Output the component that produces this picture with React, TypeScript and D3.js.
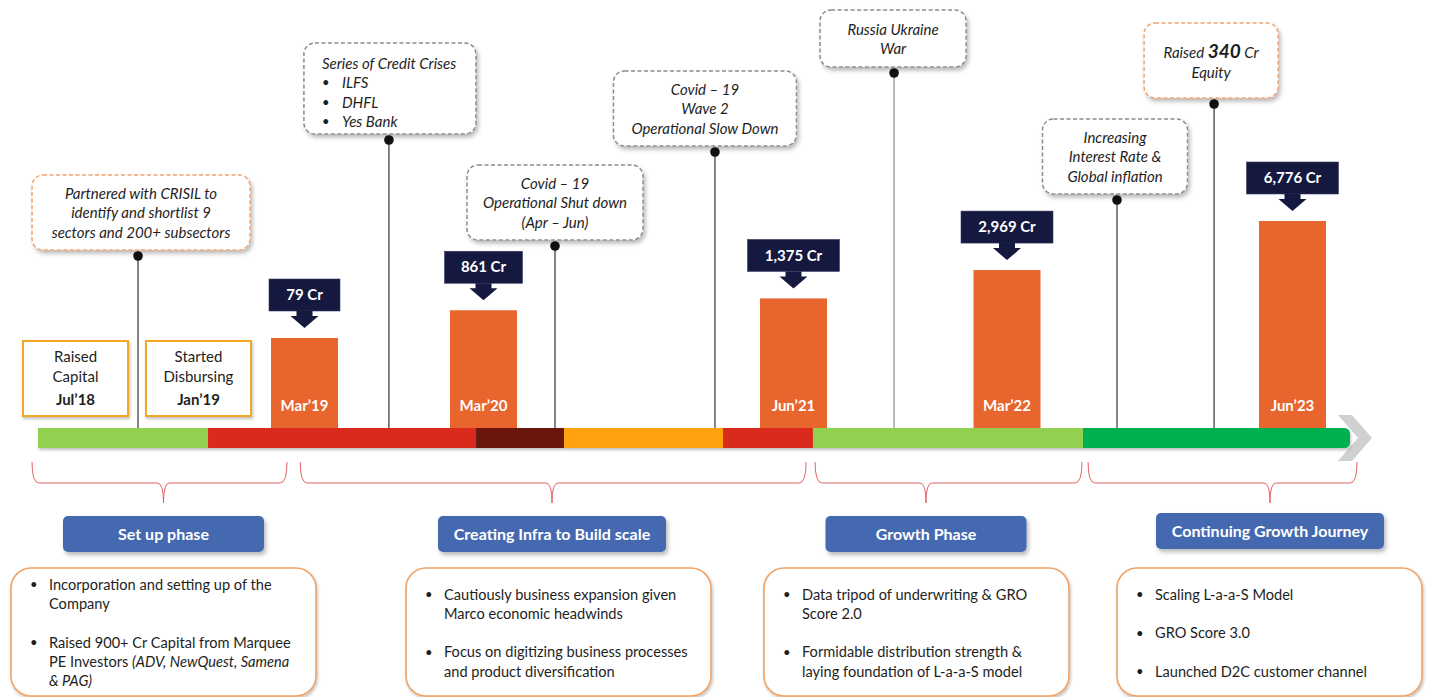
import React from "react";
import * as d3 from "d3";

// ---------------- DATA ----------------
// time is expressed in months since Jan 2018
const barPeriods = ["Mar’19", "Mar’20", "Jun’21", "Mar’22", "Jun’23"];
const barMonths = [14, 26, 41, 50, 65];
const aumCr = [79, 861, 1375, 2969, 6776];

const milestoneTitles = [["Raised", "Capital"], ["Started", "Disbursing"]];
const milestonePeriods = ["Jul’18", "Jan’19"];
const milestoneMonths = [6, 12];

const eventLines = [
  ["Partnered with CRISIL to", "identify and shortlist 9", "sectors and 200+ subsectors"],
  ["Series of Credit Crises", "• ILFS", "• DHFL", "• Yes Bank"],
  ["Covid – 19", "Operational Shut down", "(Apr – Jun)"],
  ["Covid – 19", "Wave 2", "Operational Slow Down"],
  ["Russia Ukraine", "War"],
  ["Increasing", "Interest Rate &", "Global inflation"],
  ["Raised |340| Cr", "Equity"],
];
const eventMonths = [9.05, 19.66, 29.46, 37.2, 45.24, 55.78, 60.88];
const eventKinds = ["capital", "macro", "macro", "macro", "macro", "macro", "capital"];

const segmentBounds = [4.17, 12.18, 25.5, 29.9, 37.59, 41.82, 53.99, 68.02];
const segmentStatus = ["setup", "stress", "shutdown", "recovery", "stress", "growth", "scale"];

const phaseNames = ["Set up phase", "Creating Infra to Build scale", "Growth Phase", "Continuing Growth Journey"];
const phaseStart = [3.88, 13.92, 41.91, 54.26];
const phaseEnd = [13.67, 41.53, 53.94, 68.39];
const phaseBullets = [
  [["Incorporation and setting up of the", "Company"], ["Raised 900+ Cr Capital from Marquee", "PE Investors |(ADV, NewQuest, Samena", "& PAG)|"]],
  [["Cautiously business expansion given", "Marco economic headwinds"], ["Focus on digitizing business processes", "and product diversification"]],
  [["Data tripod of underwriting & GRO", "Score 2.0"], ["Formidable distribution strength &", "laying foundation of L-a-a-S model"]],
  [["Scaling L-a-a-S Model"], ["GRO Score 3.0"], ["Launched D2C customer channel"]],
];

// ---------------- LAYOUT ----------------
const W = 1430;
const H = 697;
const FONT = "Lato, 'Open Sans', sans-serif";
const axisMonths = [6, 12, 14, 26, 41, 50, 65];
const axisPx = [75.5, 198.5, 304.5, 483.5, 793.5, 1007, 1292.5];
const BASE = 428;
const TL_H = 20;
const callLayout = [
  { w: 218, h: 75, top: 175, dx: 3 },
  { w: 172, h: 91, top: 43, dx: 1 },
  { w: 176, h: 75, top: 165, dx: 0 },
  { w: 183, h: 75, top: 71, dx: -10 },
  { w: 146, h: 57, top: 10, dx: -1 },
  { w: 145, h: 75, top: 119, dx: -2 },
  { w: 134, h: 75, top: 23, dx: -3 },
];
const phaseCenter = [163.5, 552, 926, 1270];
const phaseBtnW = [201, 228, 201, 228];
const phaseBtnTop = [516, 516, 516, 513];
const boxLeft = [11, 406, 764, 1117];
const BOX_W = 305;
const BOX_TOP = 568;
const BOX_BOTTOM = 696;
const TEXT = "#1e1e1e";

const statusColor = d3
  .scaleOrdinal<string, string>()
  .domain(["setup", "stress", "shutdown", "recovery", "growth", "scale"])
  .range(["#92D050", "#DA291C", "#6B1410", "#FFA20F", "#92D050", "#00B050"]);

function renderBig(line: string, key: string, bigSize: number) {
  const parts = line.split("|");
  return parts.map((p, i) => {
    const toggled = i % 2 === 1;
    return (
      <tspan key={key + i} fontWeight={toggled ? 700 : 400} fontStyle="italic" fontSize={toggled ? bigSize : undefined}>
        {p}
      </tspan>
    );
  });
}

export default function App() {
  const x = d3.scaleLinear().domain(axisMonths).range(axisPx);
  const y = d3
    .scalePow()
    .exponent(0.6)
    .domain([0, d3.max(aumCr) as number])
    .range([BASE - 81.3, 221]);
  const fmt = d3.format(",");
  const BAR_W = 67;

  const brace = (x0: number, x1: number, tip: number) => {
    const yt = 462, ym = 483, yb = 503;
    return `M${x0},${yt} Q${x0},${ym} ${x0 + 7},${ym} L${tip - 6},${ym} Q${tip},${ym} ${tip},${yb} Q${tip},${ym} ${tip + 6},${ym} L${x1 - 7},${ym} Q${x1},${ym} ${x1},${yt}`;
  };

  const lastIdx = segmentStatus.length - 1;
  const lx0 = x(segmentBounds[lastIdx]);
  const lx1 = x(segmentBounds[lastIdx + 1]);
  const r = 6;

  return (
    <svg width={W} height={H} style={{ position: "absolute", left: 0, top: 0, display: "block" }} fontFamily={FONT}>
      <defs>
        <filter id="sh" x="-10%" y="-10%" width="130%" height="150%">
          <feDropShadow dx="2" dy="3" stdDeviation="2" floodColor="#000" floodOpacity="0.28" />
        </filter>
        <filter id="shs" x="-10%" y="-10%" width="130%" height="180%">
          <feDropShadow dx="1" dy="2" stdDeviation="1.5" floodColor="#000" floodOpacity="0.25" />
        </filter>
      </defs>
      <rect width={W} height={H} fill="#fff" />

      {/* connector lines */}
      {eventMonths.map((m, i) => {
        const L = callLayout[i];
        const cx = x(m);
        const dotY = L.top + L.h + 6;
        return (
          <g key={"ln" + i}>
            <line x1={cx} x2={cx} y1={dotY} y2={BASE + 2} stroke={i === 4 ? "#8a8a8a" : "#333"} strokeWidth={1.2} />
            <circle cx={cx} cy={dotY} r={4.8} fill="#111" />
          </g>
        );
      })}

      {/* callouts */}
      {eventLines.map((lines, i) => {
        const L = callLayout[i];
        const cx = x(eventMonths[i]) + L.dx;
        const left = cx - L.w / 2;
        const isList = lines.some((l) => l.startsWith("• "));
        const lh = 19.5;
        const n = lines.length;
        const capital = eventKinds[i] === "capital";
        const big = lines[0].includes("|");
        const cy = L.top + L.h / 2 + (isList ? 4 : big ? 2.5 : 0.5);
        return (
          <g key={"co" + i}>
            <rect
              x={left}
              y={L.top}
              width={L.w}
              height={L.h}
              rx={11}
              fill="#fff"
              stroke={capital ? "#F2A46E" : "#8d8d8d"}
              strokeWidth={1.5}
              strokeDasharray="4 2.5"
              filter="url(#sh)"
            />
            {lines.map((ln, j) => {
              const ty = cy + (j - (n - 1) / 2) * (big ? 20 : lh);
              if (isList) {
                if (ln.startsWith("• ")) {
                  return (
                    <g key={j}>
                      <text x={left + 18} y={ty} dy="0.35em" fontSize={13} fill={TEXT}>•</text>
                      <text x={left + 38} y={ty} dy="0.35em" fontSize={15} fontStyle="italic" fill={TEXT}>{ln.slice(2)}</text>
                    </g>
                  );
                }
                return (
                  <text key={j} x={left + 18} y={ty} dy="0.35em" fontSize={15} fontStyle="italic" fill={TEXT}>{ln}</text>
                );
              }
              return (
                <text key={j} x={cx} y={ty} dy="0.35em" textAnchor="middle" fontSize={15} fontStyle="italic" fill={TEXT}>
                  {big ? renderBig(ln, "m" + j, 19) : ln}
                </text>
              );
            })}
          </g>
        );
      })}

      {/* small milestone boxes */}
      {milestonePeriods.map((p, i) => {
        const cx = x(milestoneMonths[i]);
        return (
          <g key={"ms" + i}>
            <rect x={cx - 52.5} y={341} width={105} height={75} fill="#fff" stroke="#F5A623" strokeWidth={2} filter="url(#shs)" />
            {milestoneTitles[i].map((t, j) => (
              <text key={j} x={cx} y={357 + j * 19.5} dy="0.35em" textAnchor="middle" fontSize={15} fill={TEXT}>{t}</text>
            ))}
            <text x={cx} y={400} dy="0.35em" textAnchor="middle" fontSize={15} fontWeight={700} fill={TEXT}>{p}</text>
          </g>
        );
      })}

      {/* chevron */}
      <path
        d={`M${lx1 - 12},415 L${lx1 + 2},415 L${lx1 + 22},438 L${lx1 + 2},461 L${lx1 - 12},461 L${lx1 + 8},438 Z`}
        fill="#d0d0d0"
      />

      {/* timeline */}
      <g filter="url(#shs)">
        {segmentStatus.map((s, i) => {
          const a = x(segmentBounds[i]);
          const b = x(segmentBounds[i + 1]);
          if (i === lastIdx) return null;
          return <rect key={"sg" + i} x={a} y={BASE} width={b - a} height={TL_H} fill={statusColor(s)} />;
        })}
        <path
          d={`M${lx0},${BASE} L${lx1 - r},${BASE} Q${lx1},${BASE} ${lx1},${BASE + r} L${lx1},${BASE + TL_H - r} Q${lx1},${BASE + TL_H} ${lx1 - r},${BASE + TL_H} L${lx0},${BASE + TL_H} Z`}
          fill={statusColor(segmentStatus[lastIdx])}
        />
      </g>

      {/* bars */}
      {aumCr.map((v, i) => {
        const cx = x(barMonths[i]);
        const top = y(v);
        const boxH = 32;
        const label = fmt(v) + " Cr";
        const bw = 36 + 7 * label.length;
        const bb = top - 27;
        return (
          <g key={"bar" + i}>
            <rect x={cx - BAR_W / 2} y={top} width={BAR_W} height={BASE - top} fill="#E8652E" />
            <text x={cx} y={406} dy="0.35em" textAnchor="middle" fontSize={15} fontWeight={700} fill="#fff">{barPeriods[i]}</text>
            <rect x={cx - bw / 2} y={bb - boxH} width={bw} height={boxH} fill="#15193F" stroke="#3a3f66" strokeWidth={0.6} />
            <text x={cx} y={bb - boxH / 2} dy="0.35em" textAnchor="middle" fontSize={15} fontWeight={700} fill="#fff">{label}</text>
            <path
              d={`M${cx - 8},${bb} L${cx + 8},${bb} L${cx + 8},${bb + 5} L${cx + 14},${bb + 5} L${cx},${bb + 17} L${cx - 14},${bb + 5} L${cx - 8},${bb + 5} Z`}
              fill="#15193F"
            />
          </g>
        );
      })}

      {/* braces */}
      {phaseNames.map((nm, i) => (
        <path key={"br" + i} d={brace(x(phaseStart[i]), x(phaseEnd[i]), phaseCenter[i])} fill="none" stroke="#E26464" strokeWidth={1} />
      ))}

      {/* phase buttons */}
      {phaseNames.map((nm, i) => (
        <g key={"pb" + i}>
          <rect x={phaseCenter[i] - phaseBtnW[i] / 2} y={phaseBtnTop[i]} width={phaseBtnW[i]} height={36} rx={5} fill="#4469B1" filter="url(#sh)" />
          <text x={phaseCenter[i]} y={phaseBtnTop[i] + 18} dy="0.35em" textAnchor="middle" fontSize={16} fontWeight={700} fill="#fff">{nm}</text>
        </g>
      ))}

      {/* description boxes */}
      {phaseBullets.map((bullets, i) => {
        const left = boxLeft[i];
        const rows: { text: string; bullet: boolean }[] = [];
        bullets.forEach((b, bi) => {
          if (bi > 0) rows.push({ text: "", bullet: false });
          b.forEach((t, ti) => rows.push({ text: t, bullet: ti === 0 }));
        });
        const lh = 19.3;
        const cy = (BOX_TOP + BOX_BOTTOM) / 2 + 1;
        let italicOn = false;
        return (
          <g key={"db" + i}>
            <rect x={left} y={BOX_TOP} width={BOX_W} height={BOX_BOTTOM - BOX_TOP} rx={20} fill="#fff" stroke="#F2A263" strokeWidth={1.6} filter="url(#shs)" />
            {rows.map((r2, j) => {
              const ty = cy + (j - (rows.length - 1) / 2) * lh;
              if (!r2.text) return null;
              const parts = r2.text.split("|");
              const spans = parts.map((p, k) => {
                if (k > 0) italicOn = !italicOn;
                return (
                  <tspan key={k} fontStyle={italicOn ? "italic" : "normal"}>{p}</tspan>
                );
              });
              return (
                <g key={j}>
                  {r2.bullet && (
                    <text x={left + 19} y={ty} dy="0.35em" fontSize={13} fill={TEXT}>•</text>
                  )}
                  <text x={left + 38} y={ty} dy="0.35em" fontSize={14.6} fill={TEXT}>{spans}</text>
                </g>
              );
            })}
          </g>
        );
      })}
    </svg>
  );
}
